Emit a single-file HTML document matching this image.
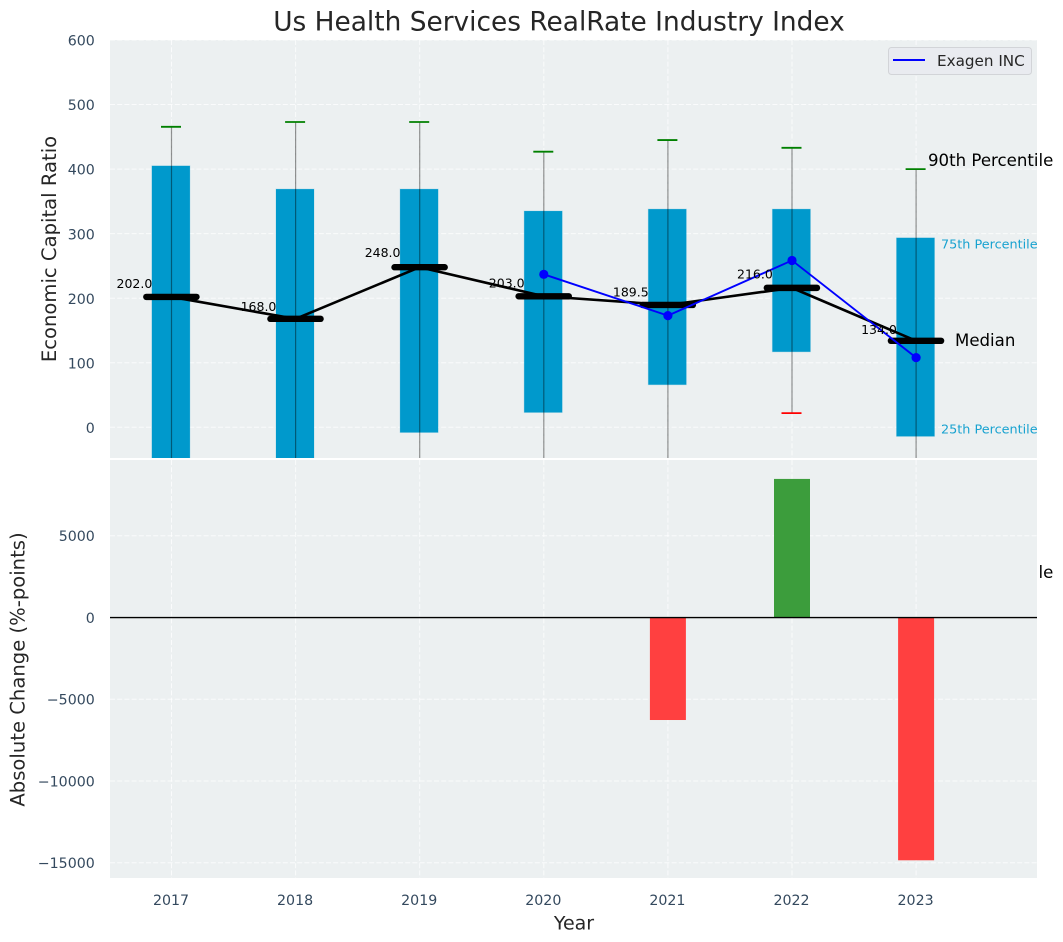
<!DOCTYPE html>
<html>
<head>
<meta charset="utf-8">
<title>Us Health Services RealRate Industry Index</title>
<style>
html,body{margin:0;padding:0;background:#fff;width:1063px;height:942px;overflow:hidden}
svg{display:block}
text{font-family:"DejaVu Sans","Liberation Sans",sans-serif}
</style>
</head>
<body>
<svg id="chart" xmlns="http://www.w3.org/2000/svg" width="1063" height="942" viewBox="0 0 1063 942">
<defs>
<clipPath id="clipTop"><rect x="110" y="40" width="927" height="418"/></clipPath>
<clipPath id="clipBottom"><rect x="110" y="460" width="927" height="418"/></clipPath>
</defs>
</svg>
<script>
const years = [2017, 2018, 2019, 2020, 2021, 2022, 2023];
const p90 = [465.5, 473, 473, 427, 445, 433, 400];
const p75 = [405, 369, 369, 335, 338, 338, 293.5];
const median = [202, 168, 248, 203, 189.5, 216, 134];
const p25 = [-100, -100, -8, 23, 66, 117, -14];
const p10 = [-150, -150, -150, -150, -150, 22, -150];
const exagen = [null, null, null, 237, 173, 258.5, 108];
const change = [null, null, null, null, -6270, 8476, -14850];
const topTicks = [0, 100, 200, 300, 400, 500, 600];
const bottomTicks = [-15000, -10000, -5000, 0, 5000];

const NS = 'http://www.w3.org/2000/svg';
const svg = document.getElementById('chart');
const LEFT = 110, RIGHT = 1037, TOP1 = 40, BOT1 = 458, TOP2 = 460, BOT2 = 878;
const X0 = 171.5, XSTEP = 124.1;
function sx(yr) { return X0 + (yr - years[0]) * XSTEP; }
function sy1(v) { return 427.3 - v * 0.6455; }
function sy2(v) { return 617.5 - v * 0.01635; }
function fmtTick(v) { return v < 0 ? '\u2212' + Math.abs(v) : String(v); }

function make(tag, attrs, parent, txt) {
  const el = document.createElementNS(NS, tag);
  for (const k in attrs) el.setAttribute(k, attrs[k]);
  if (txt !== undefined) el.textContent = txt;
  (parent || svg).appendChild(el);
  return el;
}
function group(clip, parent) {
  const a = {};
  if (clip) a['clip-path'] = 'url(#' + clip + ')';
  return make('g', a, parent);
}
const GRID = { stroke: '#ffffff', 'stroke-width': 1, 'stroke-dasharray': '5,2.2', 'stroke-opacity': 0.75 };
const TICKC = '#34495e', DARK = '#262626';
const TICKSIZE = 14.2;

/* Upper panel background */
const bgTop = make('rect', { x: LEFT, y: TOP1, width: RIGHT - LEFT, height: BOT1 - TOP1, fill: '#ecf0f1' });



/* Clipped annotation that overflows behind the lower panel */
const hidden = make('text', { x: 928, y: 578, 'font-size': 16.6, fill: '#000' }, svg, '10th Percentile');



/* Lower panel background */
const bgBot = make('rect', { x: LEFT, y: TOP2, width: RIGHT - LEFT, height: BOT2 - TOP2, fill: '#ecf0f1' });



const upper = group('clipTop');


const lower = group('clipBottom');



/* Grid */
topTicks.forEach(function (t) {
  const g = make('line', Object.assign({ x1: LEFT, x2: RIGHT, y1: sy1(t), y2: sy1(t) }, GRID), upper);
  
  
  const lab = make('text', { x: 94.8, y: sy1(t) + 5.6, 'text-anchor': 'end', 'font-size': TICKSIZE, fill: TICKC }, svg, fmtTick(t));
  
  
});
bottomTicks.forEach(function (t) {
  const g = make('line', Object.assign({ x1: LEFT, x2: RIGHT, y1: sy2(t), y2: sy2(t) }, GRID), lower);
  
  
  const lab = make('text', { x: 94.8, y: sy2(t) + 5.3, 'text-anchor': 'end', 'font-size': TICKSIZE, fill: TICKC }, svg, fmtTick(t));
  
  
});
years.forEach(function (yr) {
  const a = make('line', Object.assign({ x1: sx(yr), x2: sx(yr), y1: TOP1, y2: BOT1 }, GRID), upper);
  
  
  const b = make('line', Object.assign({ x1: sx(yr), x2: sx(yr), y1: TOP2, y2: BOT2 }, GRID), lower);
  
  
  const lab = make('text', { x: sx(yr) - 0.5, y: 904.8, 'text-anchor': 'middle', 'font-size': TICKSIZE, fill: TICKC }, svg, String(yr));
  
  
});

/* Interquartile bars */
years.forEach(function (yr, i) {
  const top = sy1(p75[i]), bot = sy1(p25[i]);
  const r = make('rect', { x: sx(yr) - 19.6, y: top, width: 38, height: bot - top, fill: '#0099cc', stroke: '#0099cc', 'stroke-opacity': 0.2, 'stroke-width': 1 }, upper);
  
  
});

/* Whiskers and caps */
years.forEach(function (yr, i) {
  const w = make('line', { x1: sx(yr), x2: sx(yr), y1: sy1(p90[i]), y2: sy1(p10[i]), stroke: '#000', 'stroke-opacity': 0.42, 'stroke-width': 1.2 }, upper);
  
  
  const c1 = make('line', { x1: sx(yr) - 10.5, x2: sx(yr) + 9.5, y1: sy1(p90[i]), y2: sy1(p90[i]), stroke: '#008000', 'stroke-width': 1.8 }, upper);
  
  
  const c2 = make('line', { x1: sx(yr) - 10.5, x2: sx(yr) + 9.5, y1: sy1(p10[i]), y2: sy1(p10[i]), stroke: '#ff0000', 'stroke-width': 1.8 }, upper);
  
  
});

/* Median trend + dashes */
const medLine = make('polyline', {
  points: years.map(function (yr, i) { return sx(yr) + ',' + sy1(median[i]); }).join(' '),
  fill: 'none', stroke: '#000', 'stroke-width': 2.6, 'stroke-linejoin': 'round'
}, upper);


years.forEach(function (yr, i) {
  const m = make('line', { x1: sx(yr) - 25.2, x2: sx(yr) + 25, y1: sy1(median[i]), y2: sy1(median[i]), stroke: '#000', 'stroke-width': 6.4, 'stroke-linecap': 'round' }, upper);
  
  
});

/* Exagen INC */
const exIdx = years.map(function (_, i) { return i; }).filter(function (i) { return exagen[i] !== null; });
const exLine = make('polyline', {
  points: exIdx.map(function (i) { return sx(years[i]) + ',' + sy1(exagen[i]); }).join(' '),
  fill: 'none', stroke: '#0000ff', 'stroke-width': 1.9
}, upper);


exIdx.forEach(function (i) {
  const d = make('circle', { cx: sx(years[i]), cy: sy1(exagen[i]), r: 4.6, fill: '#0000ff' }, upper);
  
  
});

/* Median value labels: placed slightly above the value, proportional to it */
years.forEach(function (yr, i) {
  const t = make('text', { x: sx(yr) - 19.2, y: sy1(median[i] * 1.05 + 3.5), 'text-anchor': 'end', 'font-size': 12.5, fill: '#000' }, svg, median[i].toFixed(1));
  
  
});

/* Percentile annotations */
const a90 = make('text', { x: 928, y: 166, 'font-size': 16.6, fill: '#000' }, svg, '90th Percentile');


const a75 = make('text', { x: 941, y: 248.5, 'font-size': 12.8, fill: '#0099cc', 'fill-opacity': 0.9 }, svg, '75th Percentile');


const aMed = make('text', { x: 955, y: 346, 'font-size': 16.6, fill: '#000' }, svg, 'Median');


const a25 = make('text', { x: 941, y: 433.5, 'font-size': 12.8, fill: '#0099cc', 'fill-opacity': 0.9 }, svg, '25th Percentile');



/* Change bars */
years.forEach(function (yr, i) {
  const v = change[i];
  if (v === null) return;
  const y0 = sy2(0), y1 = sy2(v);
  const b = make('rect', { x: sx(yr) - 18, y: Math.min(y0, y1), width: 36, height: Math.abs(y1 - y0), fill: v >= 0 ? '#3c9d3c' : '#ff4040' }, lower);
  
  
});
const zero = make('line', { x1: LEFT, x2: RIGHT, y1: sy2(0) + 0.1, y2: sy2(0) + 0.1, stroke: '#000', 'stroke-width': 1.4 }, lower);



/* Legend */
const legend = make('g', {});


make('rect', { x: 888.5, y: 47.5, width: 143, height: 27, rx: 3, fill: '#e9ebf0', stroke: '#d2d4d8', 'stroke-width': 1 }, legend);
const legLine = make('line', { x1: 893, x2: 925, y1: 60, y2: 60, stroke: '#0000ff', 'stroke-width': 1.9 }, legend);


const legText = make('text', { x: 937, y: 66, 'font-size': 15.2, fill: DARK }, legend, 'Exagen INC');



/* Titles */
const title = make('text', { x: 559, y: 30.5, 'text-anchor': 'middle', 'font-size': 26.4, fill: DARK }, svg, 'Us Health Services RealRate Industry Index');


const xTitle = make('text', { x: 574, y: 929.5, 'text-anchor': 'middle', 'font-size': 19, fill: DARK }, svg, 'Year');


const yTop = make('text', { transform: 'translate(56,249) rotate(-90)', 'text-anchor': 'middle', 'font-size': 19.6, fill: DARK }, svg, 'Economic Capital Ratio');


const yBot = make('text', { transform: 'translate(24.5,669.5) rotate(-90)', 'text-anchor': 'middle', 'font-size': 19.6, fill: DARK }, svg, 'Absolute Change (%-points)');


</script>
</body>
</html>
